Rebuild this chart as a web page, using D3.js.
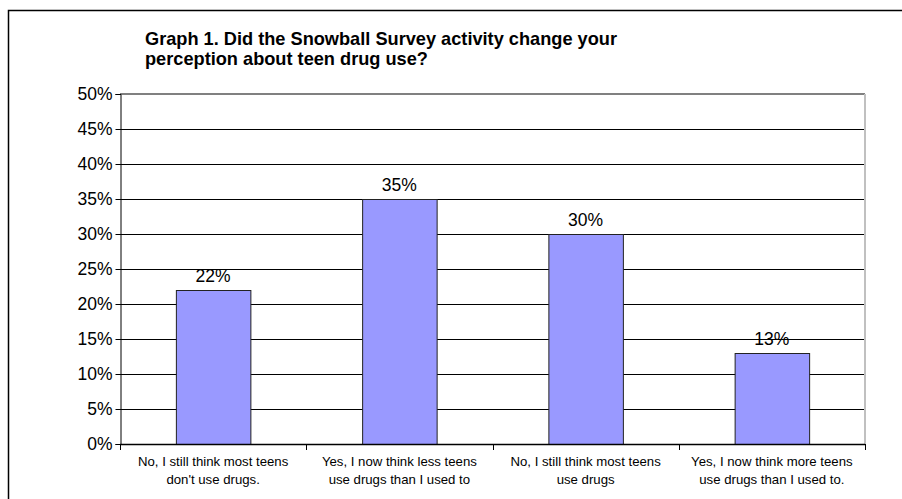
<!DOCTYPE html>
<html><head><meta charset="utf-8">
<script src="https://d3js.org/d3.v7.min.js"></script>
<style>body{margin:0;background:#fff}svg{display:block}text{font-family:"Liberation Sans",Arial,sans-serif}</style>
</head><body>
<svg id="c" width="902" height="499"></svg>
<script>
const categories = [
  ["No, I still think most teens", "don't use drugs."],
  ["Yes, I now think less teens", "use drugs than I used to"],
  ["No, I still think most teens", "use drugs"],
  ["Yes, I now think more teens", "use drugs than I used to."]
];
const values = [22, 35, 30, 13];
const yTicks = [0, 5, 10, 15, 20, 25, 30, 35, 40, 45, 50];
const titleLines = ["Graph 1. Did the Snowball Survey activity change your", "perception about teen drug use?"];

const svg = d3.select("#c");
const m = {left: 120, right: 865, top: 94, bottom: 444};
svg.append("rect").attr("x", 8.5).attr("y", 10.5).attr("width", 1000).attr("height", 1000)
  .attr("fill", "none").attr("stroke", "#000").attr("stroke-width", 1.5);

const x = d3.scaleBand().domain(d3.range(categories.length)).range([m.left, m.right]).paddingInner(0.6).paddingOuter(0.3);
const xc = d3.scaleBand().domain(d3.range(categories.length)).range([m.left, m.right]);
const y = d3.scaleLinear().domain([0, 50]).range([m.bottom, m.top]);

// gridlines
svg.append("g").selectAll("line").data(yTicks.filter(t => t > 0 && t < 50)).join("line")
  .attr("x1", m.left).attr("x2", m.right).attr("y1", d => y(d) + 0.5).attr("y2", d => y(d) + 0.5)
  .attr("stroke", "#000").attr("stroke-width", 1);
svg.append("line").attr("x1", m.left).attr("x2", m.right).attr("y1", y(50)).attr("y2", y(50))
  .attr("stroke", "#808080").attr("stroke-width", 2);
svg.append("line").attr("x1", m.right).attr("x2", m.right).attr("y1", y(50)).attr("y2", y(0))
  .attr("stroke", "#c0c0c0").attr("stroke-width", 2);

// bars
svg.append("g").selectAll("rect").data(values).join("rect")
  .attr("x", (d, i) => x(i) + 0.5).attr("y", d => y(d) + 0.5)
  .attr("width", x.bandwidth()).attr("height", d => y(0) - y(d))
  .attr("fill", "#9999ff").attr("stroke", "#222").attr("stroke-width", 1);

// value labels
svg.append("g").selectAll("text").data(values).join("text")
  .attr("x", (d, i) => x(i) + x.bandwidth() / 2).attr("y", d => y(d) - 8)
  .attr("text-anchor", "middle").attr("font-size", 17.5).text(d => d + "%");

// y axis
const ya = svg.append("g").attr("transform", `translate(${m.left + 0.5},0)`)
  .call(d3.axisLeft(y).tickValues(yTicks).tickFormat(d => d + "%").tickSize(5).tickPadding(3));
ya.select(".domain").attr("stroke", "#000");
ya.selectAll(".tick line").attr("stroke", "#000");
ya.selectAll("text").attr("font-size", 17.5).attr("fill", "#000").attr("font-family", "Liberation Sans, Arial, sans-serif");

// x axis
svg.append("line").attr("x1", m.left).attr("x2", m.right).attr("y1", m.bottom + 0.5).attr("y2", m.bottom + 0.5)
  .attr("stroke", "#000").attr("stroke-width", 1.5);
svg.append("g").selectAll("line").data(d3.range(categories.length + 1)).join("line")
  .attr("x1", i => Math.round(m.left + i * xc.bandwidth()) + 0.5).attr("x2", i => Math.round(m.left + i * xc.bandwidth()) + 0.5)
  .attr("y1", m.bottom).attr("y2", m.bottom + 6).attr("stroke", "#000");

const cl = svg.append("g").selectAll("text").data(categories).join("text")
  .attr("text-anchor", "middle").attr("font-size", 13.2);
cl.selectAll("tspan").data((d, i) => d.map(s => ({s, i}))).join("tspan")
  .attr("x", d => xc(d.i) + xc.bandwidth() / 2).attr("y", (d, j) => 466 + j * 18).text(d => d.s);

// title
svg.append("text").attr("font-size", 18.2).attr("font-weight", "bold")
  .selectAll("tspan").data(titleLines).join("tspan")
  .attr("x", 145).attr("y", (d, i) => 45 + i * 20).text(d => d);
</script>
</body></html>
